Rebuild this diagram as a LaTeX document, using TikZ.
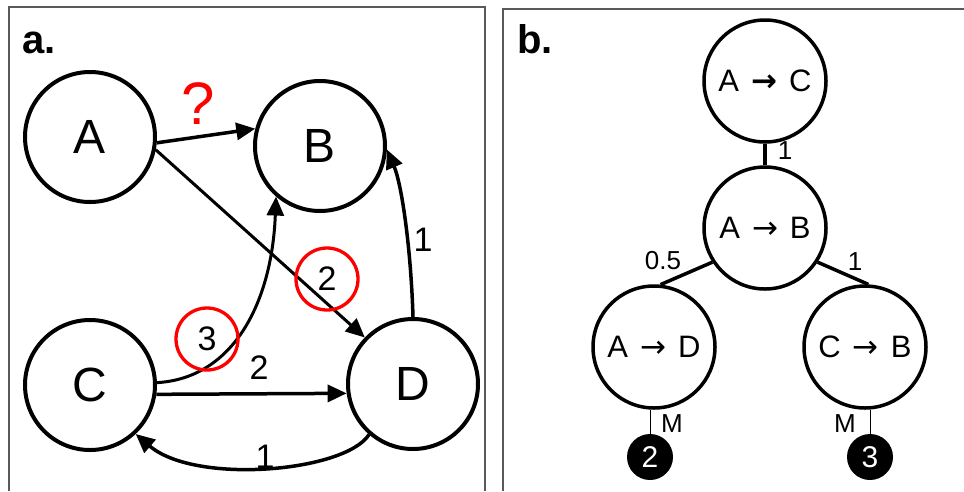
\documentclass[tikz,border=0pt]{standalone}
\usepackage{fontspec}
\setmainfont{Liberation Sans}
\newfontfamily\djv{DejaVu Sans}
\newcommand{\rar}{\hspace{12pt}{\djv →}\hspace{12pt}}
\newcommand{\brar}{\hspace{12pt}{\djv\bfseries →}\hspace{12pt}}
\usetikzlibrary{arrows.meta}
\begin{document}
\begin{tikzpicture}[x=1pt,y=-1pt,
 nd/.style={circle,draw,line width=4pt,minimum size=130pt,inner sep=0pt,font=\fontsize{48}{50}\selectfont},
 tn/.style={circle,draw,line width=3.5pt,minimum size=122pt,inner sep=0pt,font=\fontsize{31}{33}\selectfont},
 bn/.style={circle,fill=black,minimum size=46pt,inner sep=0pt,text=white,font=\fontsize{30}{32}\selectfont},
 rc/.style={circle,draw=red,line width=3.3pt,minimum size=62pt,inner sep=0pt,font=\fontsize{34}{36}\selectfont},
 ed/.style={line width=3.5pt,-{Triangle[length=19pt,width=17pt]}},
 lb/.style={inner sep=0pt,font=\fontsize{34}{36}\selectfont},
 sl/.style={inner sep=0pt,font=\fontsize{26}{28}\selectfont},
 tl/.style={line width=3.5pt},
 frm/.style={draw=black!65,line width=2pt},
 ttl/.style={inner sep=0pt,anchor=base west,font=\bfseries\fontsize{40}{42}\selectfont}]
\useasboundingbox (0,0) rectangle (964,491);
\fill[white] (0,0) rectangle (964,491);
% frames
\draw[frm] (9,491) -- (9,7) -- (485,7) -- (485,491);
\draw[frm] (503,491) -- (503,9) -- (964,9);
% panel a
\node[ttl] (ta) at (22,53) {a.};
\node[nd] (A) at (90,137) {A};
\node[nd] (B) at (320,146) {B};
\node[nd] (C) at (90,385) {C};
\node[nd] (D) at (413,384) {D};
\draw[ed] (A.-5) -- (B.165);
\draw[ed,line width=3pt] (A.-11) -- (D.136);
\draw[ed,line width=3pt] (C.2) .. controls (235,378) and (272,300) .. (B.229);
\draw[ed] (C.-8) -- (D.188);
\draw[ed] (D.north) .. controls (411,250) and (402,185) .. (B.-3);
\draw[ed] (D.229) .. controls (345,472) and (195,485) .. (C.-47);
\node[text=red,inner sep=0pt,font=\fontsize{60}{62}\selectfont] (q) at (198,104) {?};
\node[rc] (r2) at (327,279) {2};
\node[rc] (r3) at (207,339) {3};
\node[lb] (l1) at (259,368) {2};
\node[lb] (l2) at (423,240) {1};
\node[lb] (l3) at (265,457) {1};
% panel b
\node[ttl] (tb) at (517,53) {b.};
\node[tn] (bAC) at (765,81) {A\brar C};
\node[tn] (bAB) at (765,228) {A\rar B};
\node[tn] (bAD) at (654,347) {A\rar D};
\node[tn] (bCB) at (865,347) {C\rar B};
\node[bn] (k2) at (650,457) {2};
\node[bn] (k3) at (870,457) {3};
\draw[tl,line width=4pt] (bAC) -- (bAB);
\draw[tl] (bAB.213) -- (bAD.84);
\draw[tl] (bAB.-33) -- (bCB.87);
\draw[line width=1pt] (k2.north) -- (k2.north |- bAD.south);
\draw[line width=1pt] (k3.north) -- (k3.north |- bCB.south);
\node[sl] (m1) at (785,151) {1};
\node[sl] (m2) at (663,261) {0.5};
\node[sl] (m3) at (855,262) {1};
\node[sl] (m4) at (672,424) {M};
\node[sl] (m5) at (845,424) {M};
\end{tikzpicture}
\end{document}
